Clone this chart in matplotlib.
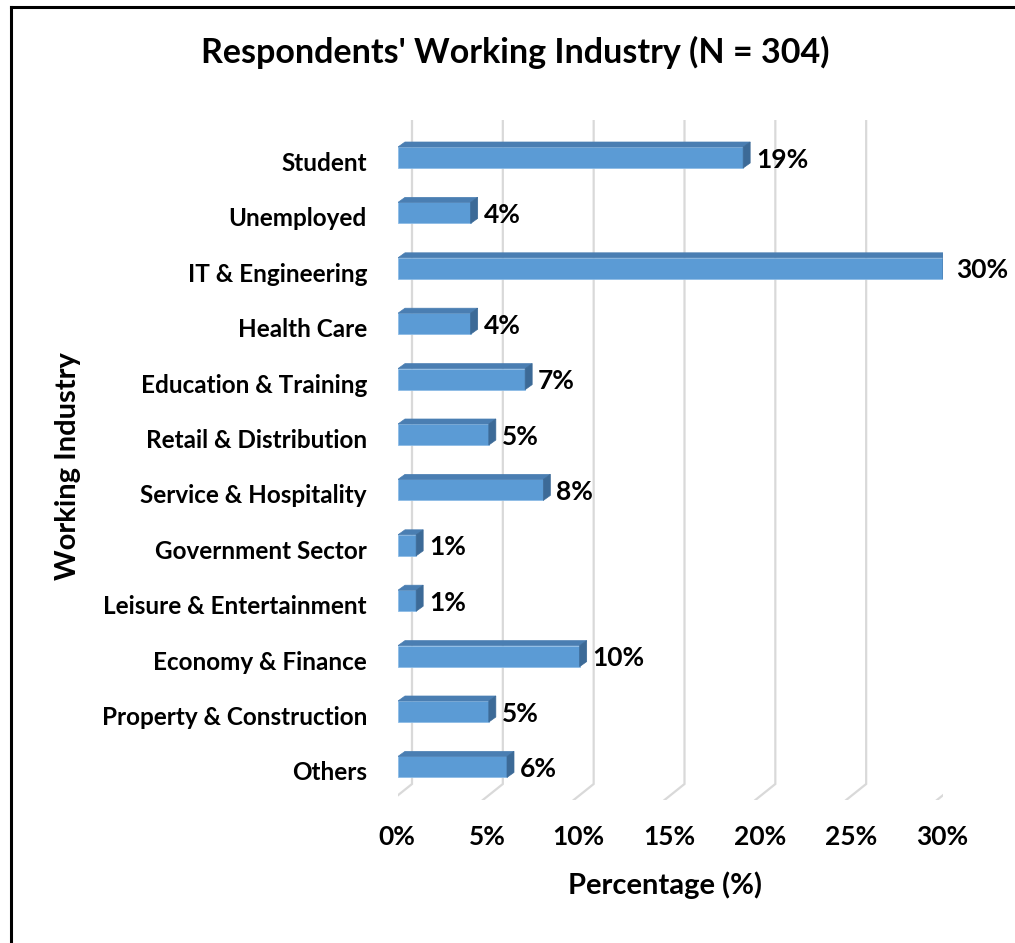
import matplotlib
matplotlib.use("Agg")
import matplotlib.pyplot as plt
from matplotlib.patches import Polygon
from matplotlib.lines import Line2D

plt.rcParams['font.family'] = ['Lato', 'DejaVu Sans']
plt.rcParams['font.weight'] = 'bold'

industries = ["Student", "Unemployed", "IT & Engineering", "Health Care",
              "Education & Training", "Retail & Distribution",
              "Service & Hospitality", "Government Sector",
              "Leisure & Entertainment", "Economy & Finance",
              "Property & Construction", "Others"]
percent = [19, 4, 30, 4, 7, 5, 8, 1, 1, 10, 5, 6]
ticks = [0, 5, 10, 15, 20, 25, 30]

FRONT = "#5B9BD5"
TOP = "#4A7EB2"
SIDE = "#3C6A97"
GRID = "#D9D9D9"

W, H = 1015, 943
fig = plt.figure(figsize=(W / 100, H / 100), dpi=100)

# plot area in pixels (front plane of the bars)
x0, x1 = 398, 943
y_top, y_bot = 120, 800
ax = fig.add_axes([x0 / W, 1 - y_bot / H, (x1 - x0) / W, (y_bot - y_top) / H])
ax.set_xlim(0, 30)
row_px = 55.4
first_px = 157.5
ax.set_ylim((y_bot - first_px) / row_px, (y_top - first_px) / row_px)
ax.axis("off")

pos = list(range(len(industries)))

# pixel -> data conversions (y axis is inverted: positive px = downward)
ux = (x1 - x0) / 30.0
def dx(px):
    return px / ux
def dy(px):
    return px / row_px
def ypx(px):
    return (px - first_px) / row_px

# back wall gridlines and floor
floor_back_y = ypx(784)
floor_front_y = ypx(800)
top_y = ypx(119)
for t in ticks:
    xb = t + dx(14)
    xf = t + dx(-6)
    ax.plot([xb, xb, xf], [top_y, floor_back_y, floor_front_y], color=GRID,
            lw=1.6, zorder=1, solid_joinstyle="miter")
    ax.text(t + dx(-1), ypx(837), f"{t}%", ha="center", va="center",
            fontsize=19, fontweight="bold")

# 3D bars: front face from barh, top and side faces as polygons
bh = 21 / row_px
ddx, ddy = dx(7), dy(5)
ax.barh(pos, percent, height=bh, color=FRONT, edgecolor="#8DBCE6",
        linewidth=0.6, zorder=3)
for p, v in zip(pos, percent):
    top = p - bh / 2
    bot = p + bh / 2
    ax.add_patch(Polygon([(0, top), (v, top), (v + ddx, top - ddy),
                          (ddx, top - ddy)], closed=True, facecolor=TOP,
                         edgecolor=TOP, lw=0.5, zorder=3))
    ax.add_patch(Polygon([(v, top), (v + ddx, top - ddy),
                          (v + ddx, bot - ddy), (v, bot)], closed=True,
                         facecolor=SIDE, edgecolor=SIDE, lw=0.5, zorder=3))
    ax.text(v + dx(13), p + dy(2), f"{v}%", ha="left", va="center",
            fontsize=19, fontweight="bold", zorder=4)
    ax.text(dx(-31), p + dy(6), industries[p], ha="right", va="center",
            fontsize=17.5, fontweight="bold")

fig.text(515 / W, 1 - 52 / H, "Respondents' Working Industry (N = 304)",
         ha="center", va="center", fontsize=24.5, fontweight="bold")
fig.text(665 / W, 1 - 885 / H, "Percentage (%)", ha="center", va="center",
         fontsize=21, fontweight="bold")
fig.text(68 / W, 1 - 466 / H, "Working Industry", ha="center", va="center",
         rotation=90, fontsize=21, fontweight="bold")

# chart border (left and top edges)
fig.add_artist(Line2D([11 / W, 11 / W], [0, 1 - 7 / H], color="black", lw=2.2,
                      transform=fig.transFigure))
fig.add_artist(Line2D([11 / W, 1], [1 - 7 / H, 1 - 7 / H], color="black",
                      lw=2.2, transform=fig.transFigure))

fig.savefig("out.png", dpi=100)
